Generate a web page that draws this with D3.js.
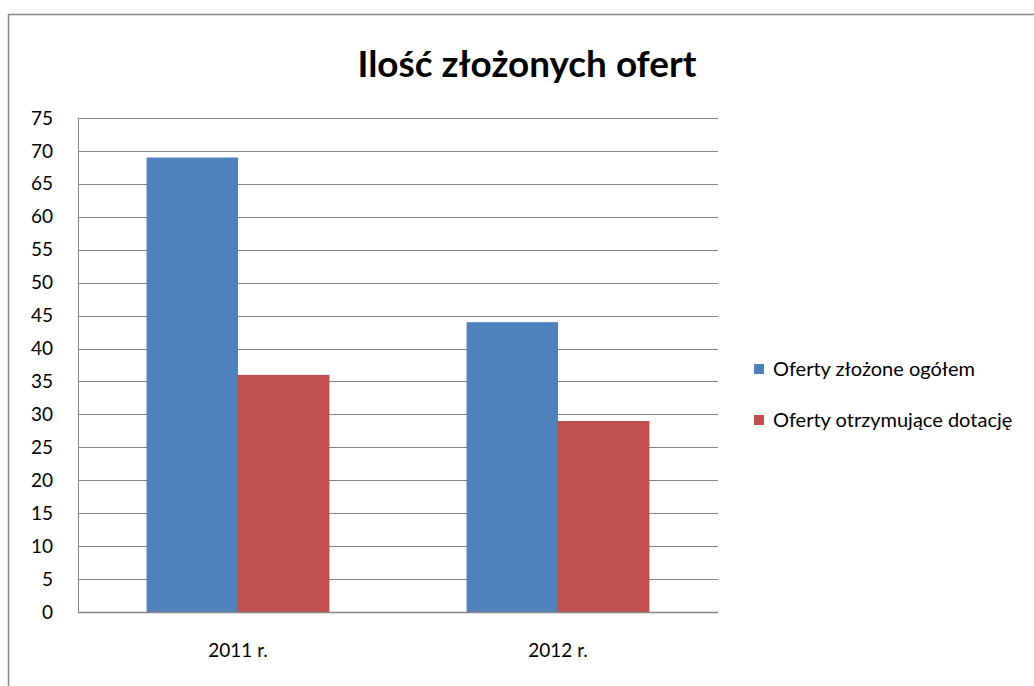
<!DOCTYPE html>
<html>
<head>
<meta charset="utf-8">
<script src="https://cdn.jsdelivr.net/npm/d3@7"></script>
<style>
  body { margin: 0; background: #fff; }
  text { font-family: Lato, "Open Sans", sans-serif; fill: #000; }
</style>
</head>
<body>
<script>
// dane
var categories = ["2011 r.", "2012 r."];
var seriesNames = ["Oferty złożone ogółem", "Oferty otrzymujące dotację"];
var submitted = [69, 44];
var granted = [36, 29];
var colors = ["#4f81bd", "#c0504d"];
var yTicks = [0, 5, 10, 15, 20, 25, 30, 35, 40, 45, 50, 55, 60, 65, 70, 75];

var width = 1034, height = 686;
var plot = {left: 78, top: 118, right: 718, bottom: 612};

var svg = d3.select("body").append("svg")
  .attr("width", width)
  .attr("height", height);

// ramka wykresu (tylko lewa i górna krawędź widoczna)
svg.append("path")
  .attr("d", "M8.5," + height + "V14.5H" + width)
  .attr("fill", "none")
  .attr("stroke", "#868686")
  .attr("stroke-width", 1.5);

// tytuł
svg.append("text")
  .attr("x", 527)
  .attr("y", 77)
  .attr("text-anchor", "middle")
  .attr("font-size", 36)
  .attr("font-weight", "bold")
  .attr("textLength", 339)
  .attr("lengthAdjust", "spacingAndGlyphs")
  .text("Ilość złożonych ofert");

var y = d3.scaleLinear().domain([0, 75]).range([plot.bottom, plot.top]);
var x0 = d3.scaleBand().domain(categories).range([plot.left, plot.right]);
var x1 = d3.scaleBand().domain([0, 1]).range([0, x0.bandwidth()]).paddingOuter(0.75);

// linie siatki
svg.append("g")
  .selectAll("line")
  .data(yTicks)
  .enter().append("line")
  .attr("x1", plot.left).attr("x2", plot.right)
  .attr("y1", function(d) { return Math.round(y(d)) + 0.5; })
  .attr("y2", function(d) { return Math.round(y(d)) + 0.5; })
  .attr("stroke", "#868686")
  .attr("stroke-width", 1);

// oś Y
var yAxis = d3.axisLeft(y).tickValues(yTicks).tickSize(0).tickPadding(25);
var gy = svg.append("g")
  .attr("transform", "translate(" + plot.left + ",0)")
  .call(yAxis);
gy.select(".domain").remove();
gy.selectAll("text").attr("font-size", 19).attr("font-family", "Lato, sans-serif").attr("fill", "#000");
svg.append("line")
  .attr("x1", plot.left + 0.5).attr("x2", plot.left + 0.5)
  .attr("y1", plot.top).attr("y2", plot.bottom + 1)
  .attr("stroke", "#868686");

// słupki
var rows = categories.map(function(c, i) { return {cat: c, vals: [submitted[i], granted[i]]}; });
var groups = svg.selectAll(".grp")
  .data(rows)
  .enter().append("g")
  .attr("transform", function(d) { return "translate(" + x0(d.cat) + ",0)"; });
groups.selectAll("rect")
  .data(function(d) { return d.vals; })
  .enter().append("rect")
  .attr("x", function(d, i) { return x1(i); })
  .attr("width", x1.bandwidth())
  .attr("y", function(d) { return y(d); })
  .attr("height", function(d) { return plot.bottom - y(d); })
  .attr("fill", function(d, i) { return colors[i]; });

// oś X
var xAxis = d3.axisBottom(x0).tickSize(0).tickPadding(32);
var gx = svg.append("g")
  .attr("transform", "translate(0," + plot.bottom + ")")
  .call(xAxis);
gx.select(".domain").remove();
gx.selectAll("text").attr("font-size", 19).attr("font-family", "Lato, sans-serif").attr("fill", "#000");
svg.append("line")
  .attr("x1", plot.left).attr("x2", plot.right)
  .attr("y1", plot.bottom + 0.5).attr("y2", plot.bottom + 0.5)
  .attr("stroke", "#868686").attr("stroke-width", 1.5);

// legenda
var legend = svg.selectAll(".leg")
  .data(seriesNames)
  .enter().append("g")
  .attr("transform", function(d, i) { return "translate(754," + (364 + i * 51) + ")"; });
legend.append("rect")
  .attr("width", 10).attr("height", 10)
  .attr("fill", function(d, i) { return colors[i]; });
legend.append("text")
  .attr("x", 19).attr("y", 12)
  .attr("font-size", 20)
  .text(function(d) { return d; });
</script>
</body>
</html>
